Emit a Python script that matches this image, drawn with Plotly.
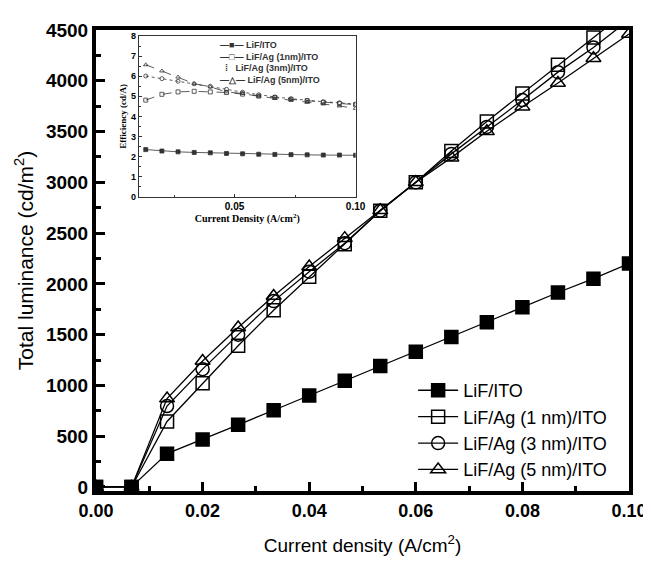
import plotly.graph_objects as go

# current density (A/cm2)
x = [0, 0.00667, 0.01333, 0.02, 0.02667, 0.03333, 0.04, 0.04667, 0.05333,
     0.06, 0.06667, 0.07333, 0.08, 0.08667, 0.09333, 0.1]

# total luminance (cd/m2)
lum_ito = [0, 0, 328, 467, 612, 755, 900, 1045, 1190, 1332, 1477, 1623, 1769, 1915, 2051, 2200]
lum_ag1 = [0, 0, 645, 1020, 1390, 1740, 2070, 2390, 2720, 3000, 3308, 3600, 3875, 4157, 4426, 4700]
lum_ag3 = [0, 0, 797, 1160, 1500, 1830, 2120, 2400, 2720, 3000, 3280, 3545, 3810, 4085, 4328, 4600]
lum_ag5 = [0, 0, 870, 1240, 1570, 1880, 2170, 2450, 2724, 3000, 3243, 3502, 3745, 3978, 4221, 4460]

# inset: efficiency (cd/A)
x_in = x[2:]
eff_ito = [2.35, 2.28, 2.24, 2.21, 2.19, 2.16, 2.14, 2.12, 2.11, 2.10, 2.09, 2.08, 2.08, 2.07]
eff_ag1 = [4.81, 5.10, 5.22, 5.25, 5.22, 5.19, 5.11, 5.01, 4.94, 4.85, 4.78, 4.70, 4.64, 4.58]
eff_ag3 = [6.01, 5.88, 5.75, 5.62, 5.50, 5.35, 5.20, 5.08, 4.97, 4.88, 4.80, 4.73, 4.68, 4.62]
eff_ag5 = [6.57, 6.26, 5.96, 5.63, 5.47, 5.22, 5.14, 5.00, 4.90, 4.81, 4.70, 4.62, 4.52, 4.40]

names = ['LiF/ITO', 'LiF/Ag (1 nm)/ITO', 'LiF/Ag (3 nm)/ITO', 'LiF/Ag (5 nm)/ITO']
symbols = ['square', 'square-open', 'circle-open', 'triangle-up-open']

fig = go.Figure()

for name, sym, ys in zip(names, symbols, [lum_ito, lum_ag1, lum_ag3, lum_ag5]):
    fig.add_trace(go.Scatter(
        x=x, y=ys, name=name, mode='lines+markers',
        line=dict(color='black', width=1.3),
        marker=dict(symbol=sym, size=13, color='black', line=dict(color='black', width=1.5)),
    ))

# inset traces
in_dash = ['solid', 'dash', 'dot', 'dash']
for sym, dash, ys in zip(symbols, in_dash, [eff_ito, eff_ag1, eff_ag3, eff_ag5]):
    fig.add_trace(go.Scatter(
        x=x_in, y=ys, xaxis='x2', yaxis='y2', mode='lines+markers', showlegend=False,
        line=dict(color='#333', width=0.8, dash=dash),
        marker=dict(symbol=sym, size=4, color='#333', line=dict(color='#333', width=0.8)),
    ))

font_main = 'Liberation Sans, Arial, sans-serif'
font_serif = 'Liberation Serif, Times New Roman, serif'

# page body has an 8px margin, so the margins are shifted by 8px
fig.update_layout(
    width=651, height=564,
    margin=dict(l=88, r=29, t=16, b=81),
    paper_bgcolor='white', plot_bgcolor='white',
    font=dict(family=font_main, color='black'),
    xaxis=dict(
        range=[0, 0.1], dtick=0.02, tickformat='.2f',
        showline=True, linewidth=4, linecolor='black', mirror=True,
        ticks='inside', ticklen=9, tickwidth=3, tickcolor='black',
        minor=dict(dtick=0.01, ticks='inside', ticklen=5, tickwidth=3, tickcolor='black'),
        showgrid=False, zeroline=False,
        tickfont=dict(size=18, weight='bold'),
        title=dict(text='Current density (A/cm<sup>2</sup>)', font=dict(size=19), standoff=20),
    ),
    yaxis=dict(
        range=[-40, 4500], dtick=500,
        showline=True, linewidth=4, linecolor='black', mirror=True,
        ticks='inside', ticklen=9, tickwidth=3, tickcolor='black',
        minor=dict(dtick=250, ticks='inside', ticklen=5, tickwidth=3, tickcolor='black'),
        showgrid=False, zeroline=False,
        tickfont=dict(size=19, weight='bold'),
        title=dict(text='Total luminance (cd/m<sup>2</sup>)', font=dict(size=21), standoff=8),
    ),
    xaxis2=dict(
        domain=[0.0805, 0.487], anchor='y2', range=[0.0105, 0.1],
        tick0=0, dtick=0.05, tickformat='.2f',
        showline=True, linewidth=1, linecolor='#333', mirror=True,
        ticks='inside', ticklen=3, tickwidth=1, tickcolor='#333',
        minor=dict(dtick=0.025, ticks='inside', ticklen=2, tickcolor='#333'),
        showgrid=False, zeroline=False,
        tickfont=dict(family=font_main, size=10, weight='bold'),
        title=dict(text='Current Density (A/cm<sup>2</sup>)',
                   font=dict(family=font_serif, size=10, weight='bold'), standoff=2),
    ),
    yaxis2=dict(
        domain=[0.638, 0.987], anchor='x2', range=[0, 8], dtick=1,
        showline=True, linewidth=1, linecolor='#333', mirror=True,
        ticks='inside', ticklen=3, tickwidth=1, tickcolor='#333',
        minor=dict(dtick=0.5, ticks='inside', ticklen=2, tickcolor='#333'),
        showgrid=False, zeroline=False,
        tickfont=dict(family=font_main, size=9, weight='bold'),
        title=dict(text='Efficiency (cd/A)',
                   font=dict(family=font_serif, size=9, weight='bold'), standoff=2),
    ),
    legend=dict(
        x=0.595, y=0.258, xanchor='left', yanchor='top',
        bgcolor='rgba(0,0,0,0)', font=dict(size=18),
        tracegroupgap=0, itemwidth=40,
    ),
)

# inset legend as a small text block
fig.add_annotation(
    xref='paper', yref='paper', x=0.228, y=0.982, xanchor='left', yanchor='top',
    align='left', showarrow=False,
    text='—■— LiF/ITO<br>—□— LiF/Ag (1nm)/ITO<br>  ⁞   LiF/Ag (3nm)/ITO<br>—△— LiF/Ag (5nm)/ITO',
    font=dict(family=font_main, size=9, weight='bold', color='#333'),
)

fig.write_html("out.html")
